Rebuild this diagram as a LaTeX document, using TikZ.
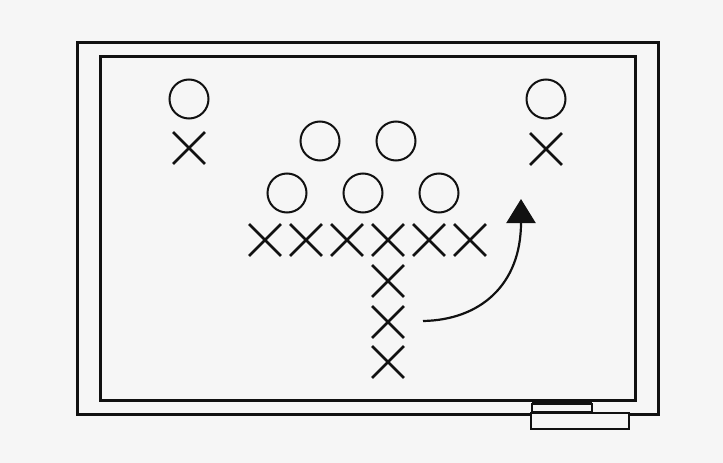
\documentclass[tikz,border=0pt]{standalone}
\usetikzlibrary{shapes.misc,arrows.meta}
\definecolor{bg}{HTML}{F6F6F6}
\definecolor{ink}{HTML}{111111}
\begin{document}
\begin{tikzpicture}[x=1pt,y=-1pt,
  frame/.style={draw=ink,line width=3pt},
  oh/.style={circle,draw=ink,line width=2pt,minimum size=39pt,inner sep=0pt},
  ex/.style={cross out,draw=ink,line width=2.8pt,minimum size=29pt,inner sep=0pt},
  move/.style={draw=ink,line width=2.2pt,-{Triangle[length=24pt,width=29pt]}}]
\fill[bg] (0,0) rectangle (723,463);
\useasboundingbox (0,0) rectangle (723,463);
% board
\draw[frame] (77,42) rectangle (658,414);
\draw[frame] (100,56) rectangle (635,400);
% eraser / tray
\fill[ink] (532,399) rectangle (592,405);
\draw[ink,line width=2pt,fill=bg] (532,404) rectangle (592,412);
\draw[ink,line width=2.5pt,fill=bg] (531,413) rectangle (629,429);
% defence
\node[oh] (o1) at (189,99) {};
\node[oh] (o2) at (320,141) {};
\node[oh] (o3) at (396,141) {};
\node[oh] (o4) at (287,193) {};
\node[oh] (o5) at (363,193) {};
\node[oh] (o6) at (439,193) {};
\node[oh] (o7) at (546,99) {};
% offence
\node[ex] (x1) at (189,148) {};
\node[ex] (x2) at (546,149) {};
\node[ex] (l1) at (265,240) {};
\node[ex] (l2) at (306,240) {};
\node[ex] (l3) at (347,240) {};
\node[ex] (l4) at (388,240) {};
\node[ex] (l5) at (429,240) {};
\node[ex] (l6) at (470,240) {};
\node[ex] (b1) at (388,281) {};
\node[ex] (b2) at (388,322) {};
\node[ex] (b3) at (388,362) {};
% route
\coordinate (rs) at (423,321);
\coordinate (re) at (521,199);
\draw[move] (rs) .. controls (480,320) and (521,285) .. (re);
\end{tikzpicture}
\end{document}
